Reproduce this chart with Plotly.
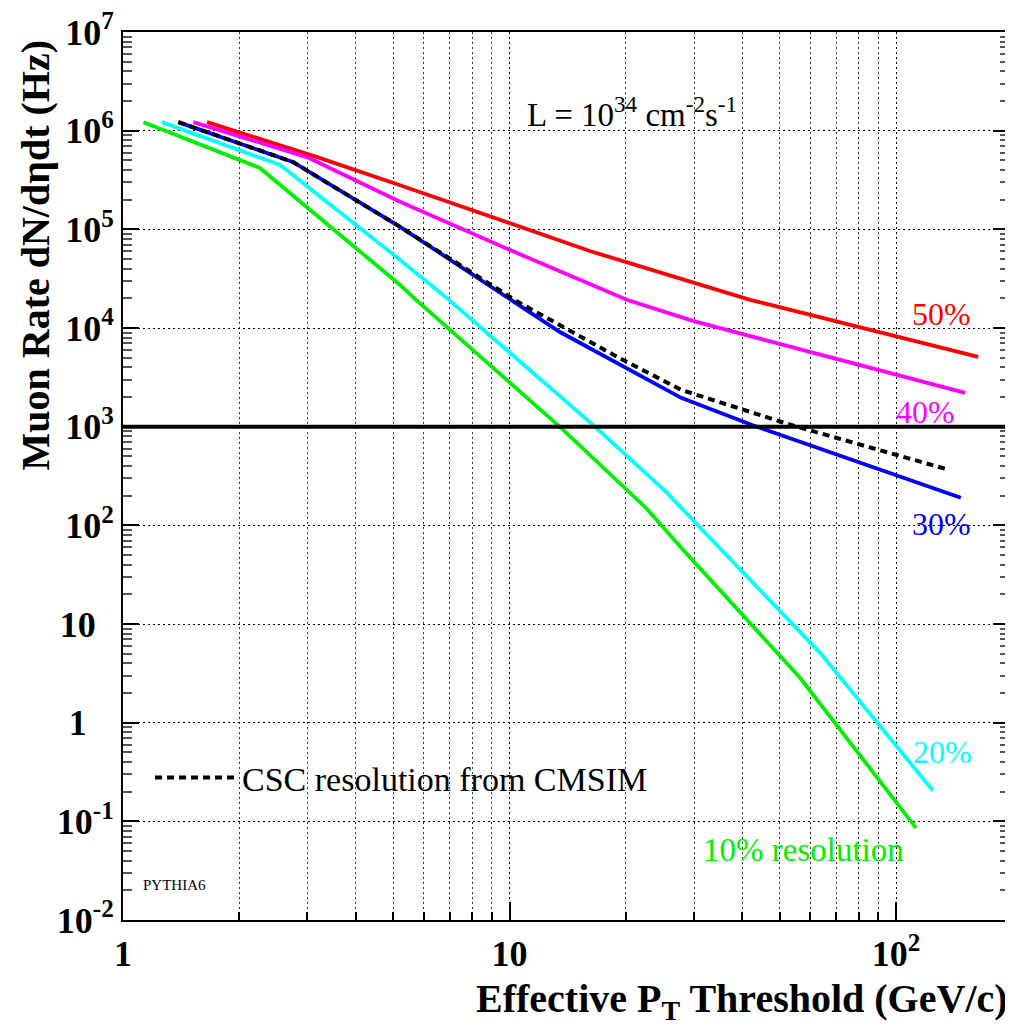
import plotly.graph_objects as go

# ---- data ----
pt_50 = [1.65, 3.18, 5.21, 16.2, 41.9, 163.0]
rate_50 = [1.22e6, 5.4e5, 2.8e5, 6.0e4, 1.93e4, 5.1e3]

pt_40 = [1.52, 2.99, 5.21, 10.0, 20.1, 29.8, 151.0]
rate_40 = [1.22e6, 5.4e5, 1.9e5, 6.2e4, 1.93e4, 1.18e4, 2.2e3]

pt_30 = [1.39, 2.75, 5.21, 10.1, 13.5, 27.8, 42.4, 147.0]
rate_30 = [1.22e6, 4.82e5, 1.06e5, 1.93e4, 9.1e3, 1.96e3, 1.04e3, 190.0]

pt_csc = [1.39, 2.75, 5.21, 10.5, 19.2, 27.8, 53.5, 137.0]
rate_csc = [1.22e6, 4.82e5, 1.06e5, 1.84e4, 4.98e3, 2.36e3, 1.04e3, 365.0]

pt_20 = [1.26, 2.55, 5.21, 6.97, 16.65, 25.4, 35.3, 63.6, 124.6]
rate_20 = [1.22e6, 4.49e5, 4.9e4, 1.93e4, 995.0, 218.0, 56.5, 5.1, 0.204]

pt_10 = [1.13, 2.26, 5.21, 5.73, 13.5, 22.55, 28.1, 56.4, 112.6]
rate_10 = [1.22e6, 4.19e5, 2.73e4, 1.93e4, 995.0, 150.0, 56.5, 2.85, 0.086]

rate_limit = 1000.0  # horizontal reference line (1 kHz)

x_tickvals = [1, 10, 100]
x_ticktext = ["1", "10", "10<sup>2</sup>"]
y_tickvals = [1e-2, 1e-1, 1, 10, 1e2, 1e3, 1e4, 1e5, 1e6, 1e7]
y_ticktext = ["10<sup>-2</sup>", "10<sup>-1</sup>", "1\u00a0\u00a0\u00a0", "10\u00a0\u00a0",
              "10<sup>2</sup>", "10<sup>3</sup>", "10<sup>4</sup>", "10<sup>5</sup>",
              "10<sup>6</sup>", "10<sup>7</sup>"]

x_minor = [2, 3, 4, 5, 6, 7, 8, 9, 20, 30, 40, 50, 60, 70, 80, 90, 200]
y_minor = [m * 10.0 ** e for e in range(-2, 7) for m in range(2, 10)]

FONT = "Liberation Serif, Times New Roman, Times, serif"
RED, MAG, BLUE, CYAN, GREEN = "#ff0000", "#ff00ff", "#0000ff", "#00ffff", "#00f000"

fig = go.Figure()
LW = 3.8
fig.add_trace(go.Scatter(x=pt_50, y=rate_50, mode="lines", line=dict(color=RED, width=LW), showlegend=False))
fig.add_trace(go.Scatter(x=pt_40, y=rate_40, mode="lines", line=dict(color=MAG, width=LW), showlegend=False))
fig.add_trace(go.Scatter(x=pt_20, y=rate_20, mode="lines", line=dict(color=CYAN, width=LW), showlegend=False))
fig.add_trace(go.Scatter(x=pt_10, y=rate_10, mode="lines", line=dict(color=GREEN, width=LW), showlegend=False))
fig.add_trace(go.Scatter(x=pt_30, y=rate_30, mode="lines", line=dict(color=BLUE, width=LW), showlegend=False))
fig.add_trace(go.Scatter(x=pt_csc, y=rate_csc, mode="lines", name="CSC resolution from CMSIM",
                         line=dict(color="black", width=4, dash="7px,5px"), showlegend=True))

fig.add_shape(type="line", xref="paper", x0=0, x1=1, yref="y", y0=rate_limit, y1=rate_limit,
              line=dict(color="black", width=4))

# positions given in screen pixels of the reference; plot area spans x 123..1009, y 32..920
def px2paper(px, py):
    return (px - 123) / 886.0, (920 - py) / 888.0

annos = []
def add_text(text, px, py, color="black", size=32, xanchor="center", yanchor="middle", bold=False, angle=0):
    xp, yp = px2paper(px, py)
    annos.append(dict(text=text, x=xp, y=yp, xref="paper", yref="paper", showarrow=False,
                      xanchor=xanchor, yanchor=yanchor, textangle=angle,
                      font=dict(family=FONT, size=size, color=color,
                                weight="bold" if bold else "normal")))

add_text("L = 10<sup>34</sup> cm<sup>-2</sup>s<sup>-1</sup>", 525, 112, size=33, xanchor="left")
add_text("50%", 941, 314, RED)
add_text("40%", 925, 412, MAG)
add_text("30%", 941, 524, BLUE)
add_text("20%", 942, 752, CYAN)
add_text("10% resolution", 803, 850, GREEN, size=33)
add_text("PYTHIA6", 174, 885, size=15)
add_text("Muon Rate dN/d\u03b7dt (Hz)", 35, 38, size=40, yanchor="top", bold=True, angle=-90)
add_text("Effective P<sub>T</sub> Threshold (GeV/c)", 1010, 1001, size=40, xanchor="right", bold=True)

# the page body adds an 8px offset, so the figure is 8px smaller than the window on each side
fig.update_layout(
    width=1005, height=1021,
    margin=dict(l=115, r=4, t=24, b=109, autoexpand=False),
    paper_bgcolor="white", plot_bgcolor="white",
    font=dict(family=FONT, color="black"),
    annotations=annos,
    legend=dict(x=0.0305, y=0.160, xanchor="left", yanchor="middle", itemwidth=82,
                bgcolor="rgba(0,0,0,0)", borderwidth=0,
                font=dict(family=FONT, size=34, color="black")),
)

fig.update_xaxes(
    type="log", range=[0, 2.292], automargin=False, ticklabeloverflow="allow",
    tickmode="array", tickvals=x_tickvals, ticktext=x_ticktext,
    tickfont=dict(family=FONT, size=36, weight="bold"),
    ticks="inside", ticklen=18, tickwidth=1.5, tickcolor="black",
    ticklabelstandoff=1,
    showline=True, linecolor="black", linewidth=2, mirror=True,
    showgrid=True, gridcolor="black", gridwidth=1, griddash="2px,3px",
    minor=dict(tickmode="array", tickvals=x_minor, ticks="inside", ticklen=8, tickwidth=1.5,
               tickcolor="black", showgrid=True, gridcolor="#333", gridwidth=1, griddash="2px,3px"),
    zeroline=False,
)
fig.update_yaxes(
    type="log", range=[-2, 7], automargin=False, ticklabeloverflow="allow",
    tickmode="array", tickvals=y_tickvals, ticktext=y_ticktext,
    tickfont=dict(family=FONT, size=36, weight="bold"),
    ticks="inside", ticklen=16, tickwidth=1.5, tickcolor="black",
    ticklabelstandoff=0,
    showline=True, linecolor="black", linewidth=2, mirror="ticks",
    showgrid=True, gridcolor="black", gridwidth=1, griddash="2px,3px",
    minor=dict(tickmode="array", tickvals=y_minor, ticks="inside", ticklen=9, tickwidth=1.5,
               tickcolor="#555", showgrid=False),
    zeroline=False,
)

fig.write_html("out.html")
